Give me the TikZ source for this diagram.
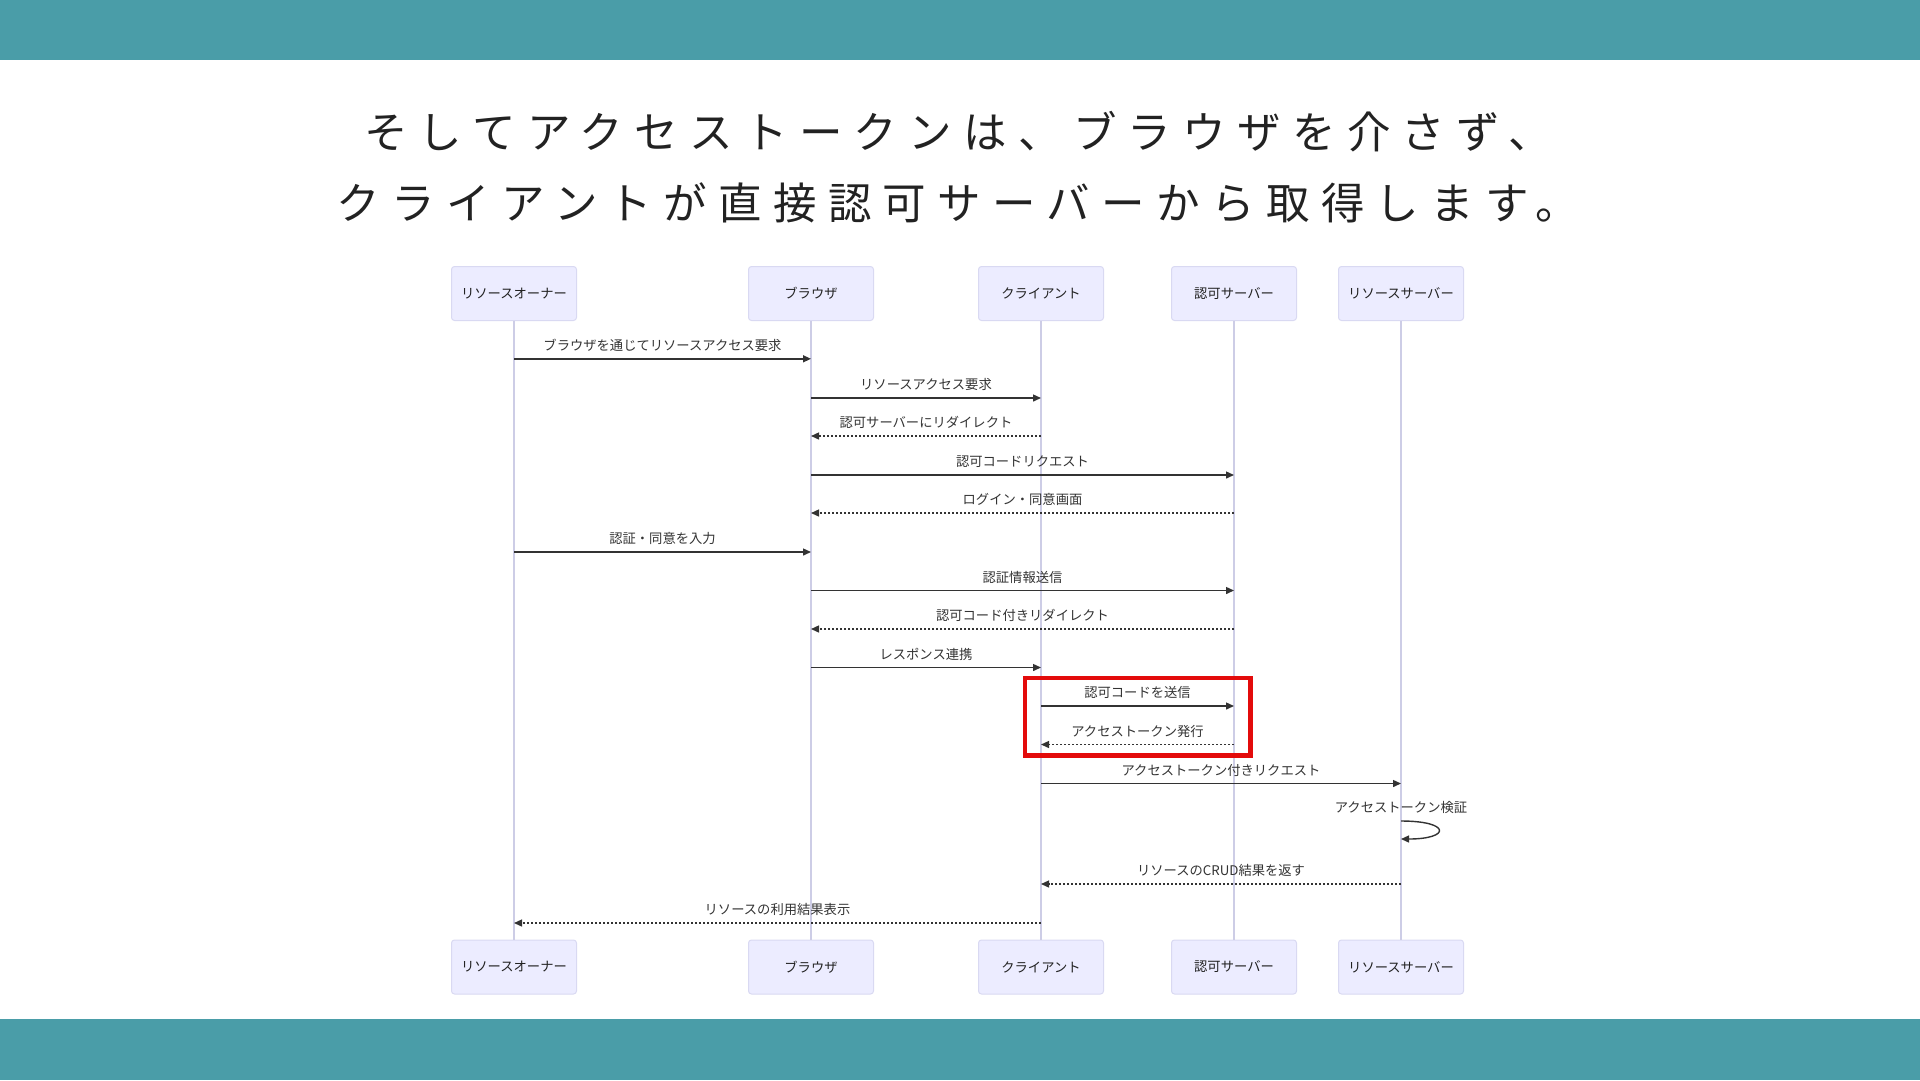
\documentclass[tikz,border=0pt]{standalone}
\usepackage{fontspec}
\setmainfont{Noto Sans CJK JP}
\newfontfamily\titlefont[LetterSpace=26]{Noto Sans CJK JP}
\usepackage{tikz}
\usetikzlibrary{arrows.meta}
\definecolor{bandteal}{HTML}{4A9DA8}
\definecolor{actorfill}{HTML}{ECECFF}
\definecolor{actorline}{HTML}{D9D9F2}
\definecolor{lifegray}{HTML}{CDCDE6}
\definecolor{msgdark}{HTML}{333333}
\definecolor{msgtext}{HTML}{333333}
\definecolor{actortext}{HTML}{222222}
\definecolor{titletext}{HTML}{222222}
\definecolor{hlred}{HTML}{E30B0B}

\begin{document}
\begin{tikzpicture}[x=1pt, y=-1pt,
  actor/.style={rounded corners=3pt, draw=actorline, fill=actorfill, line width=1pt,
                minimum width=125pt, minimum height=54pt, align=center,
                font=\fontsize{13.3}{15}\selectfont, text=actortext},
  lifeline/.style={draw=lifegray, line width=1.2pt},
  msg/.style={-{Triangle[length=8pt,width=7pt]}, line width=1.4pt, draw=msgdark},
  reply/.style={msg, dash pattern=on 2pt off 2pt},
  msglabel/.style={font=\fontsize{13.3}{15}\selectfont, text=msgtext},
  heading/.style={font=\titlefont\fontsize{43.5}{52}\selectfont, text=titletext},
  highlight/.style={draw=hlred, line width=4.5pt}
]
  \useasboundingbox (0,0) rectangle (1920,1080);
  \fill[bandteal] (0,0) rectangle (1920,60);
  \fill[bandteal] (0,1019) rectangle (1920,1080);

  \node[heading] (line1) at (958,132) {そしてアクセストークンは、ブラウザを介さず、};
  \node[heading] (line2) at (958,203) {クライアントが直接認可サーバーから取得します。};

  \node[actor] (owner)   at (514,293.5)  {リソースオーナー};
  \node[actor] (browser) at (811,293.5)  {ブラウザ};
  \node[actor] (client)  at (1041,293.5) {クライアント};
  \node[actor] (authsrv) at (1234,293.5) {認可サーバー};
  \node[actor] (ressrv)  at (1401,293.5) {リソースサーバー};
  \foreach \a/\t in {owner/リソースオーナー, browser/ブラウザ, client/クライアント,
                     authsrv/認可サーバー, ressrv/リソースサーバー}{
    \node[actor] (\a-b) at (\a |- 0,967) {\t};
    \draw[lifeline] (\a) -- (\a-b);
  }

  \foreach \f/\t/\y/\s/\l in {
      owner/browser/358.8/msg/ブラウザを通じてリソースアクセス要求,
      browser/client/398/msg/リソースアクセス要求,
      client/browser/436/reply/認可サーバーにリダイレクト,
      browser/authsrv/475/msg/認可コードリクエスト,
      authsrv/browser/513/reply/ログイン・同意画面,
      owner/browser/552/msg/認証・同意を入力,
      browser/authsrv/590.5/msg/認証情報送信,
      authsrv/browser/629/reply/認可コード付きリダイレクト,
      browser/client/667.5/msg/レスポンス連携,
      client/authsrv/706/msg/認可コードを送信,
      authsrv/client/744.5/reply/アクセストークン発行,
      client/ressrv/783.5/msg/アクセストークン付きリクエスト,
      ressrv/client/884/reply/リソースのCRUD結果を返す,
      client/owner/923/reply/リソースの利用結果表示}{
    \draw[\s] (\f |- 0,\y) -- node[msglabel, yshift=13.5pt]{\l} (\t |- 0,\y);
  }

  % self check on the resource server
  \node[msglabel] (check) at (ressrv |- 0,807.5) {アクセストークン検証};
  \coordinate (checkA) at (ressrv |- 0,821);
  \coordinate (checkB) at (ressrv |- 0,839);
  \draw[msg] (checkA) .. controls +(50,0) and +(50,0) .. (checkB);

  \draw[highlight] (1025,678) rectangle (1250.5,755.5);
\end{tikzpicture}
\end{document}
